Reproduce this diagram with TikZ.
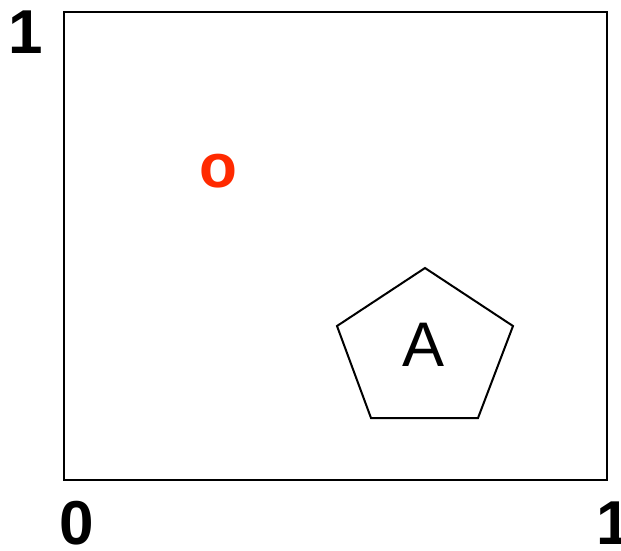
\documentclass[tikz,border=0pt]{standalone}
\usepackage{fontspec}
\setmainfont{Liberation Sans}
\usepackage{xcolor}
\usepackage{tikz}
\definecolor{markred}{HTML}{FF2A00}
\tikzset{axislabel/.style={inner sep=0pt,font=\fontsize{62}{62}\selectfont\bfseries},
  marker/.style={inner sep=0pt,text=markred,font=\fontsize{62}{62}\selectfont\bfseries},
  region/.style={draw=black,line width=2pt,line join=miter}}

\begin{document}
\begin{tikzpicture}[x=1pt,y=-1pt]
 \useasboundingbox (0,0) rectangle (621,550);
 % unit square
 \draw[region] (64,12) rectangle (607,480);
 \node[axislabel] (ytop) at (26,32) {1};
 \node[axislabel] (xzero) at (77,523) {0};
 \node[axislabel] (xone) at (614,523) {1};
 % point and obstacle
 \node[marker] (pt) at (218,171) {o};
 \draw[region] (425,268) -- (513,326) -- (478,418) -- (371,418) -- (337,326) -- cycle;
 \node[inner sep=0pt,font=\fontsize{63}{63}\selectfont] (obs) at (424,345) {A};
\end{tikzpicture}
\end{document}
